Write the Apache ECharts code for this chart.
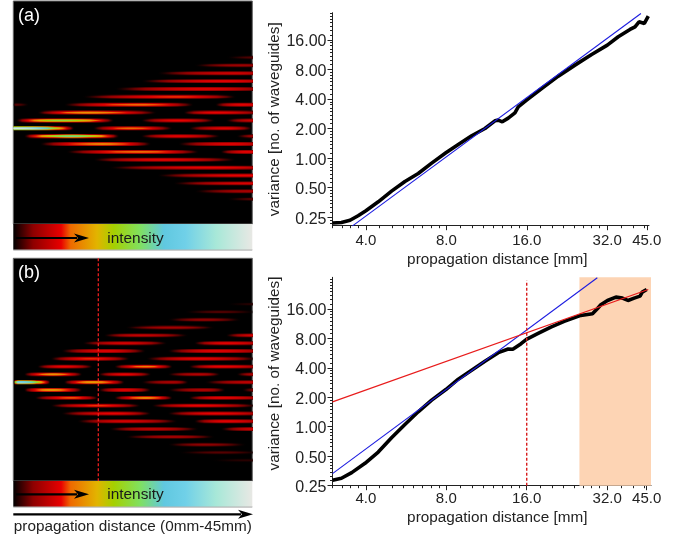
<!DOCTYPE html>
<html>
<head>
<meta charset="utf-8">
<style>html,body{margin:0;padding:0;background:#fff}#c{width:688px;height:540px}</style>
<script src="https://cdn.jsdelivr.net/npm/echarts@6/dist/echarts.min.js"></script>
</head>
<body>
<div id="c"></div>
<script>
// ---------- data ----------
var xTicks = [4, 8, 16, 32, 45];
var yTicks = [0.25, 0.5, 1, 2, 4, 8, 16];

// propagation distance [mm], variance — panel (a)
var zA = [3.0,3.24,3.49,3.74,4.0,4.45,4.99,5.6,6.28,7.05,7.97,8.87,9.95,11.16,12.16,12.52,12.96,13.64,14.45,14.87,15.98,18.19,21.0,24.24,27.99,32.04,35.2,38.95,40.67,42.1,44.08,45.6];
var varA = [0.218,0.221,0.233,0.259,0.291,0.359,0.461,0.579,0.698,0.89,1.133,1.378,1.689,2.005,2.4,2.438,2.345,2.556,2.896,3.334,3.899,5.126,6.845,8.86,11.38,14.16,17.22,20.45,21.77,24.49,23.54,27.96];
var fitA = [[3.556,0.2028],[42.8,29.77]];

// panel (b)
var zB = [3.0,3.24,3.54,3.97,4.45,4.99,5.6,6.28,7.05,7.97,8.87,9.95,11.16,12.52,13.64,14.19,15.24,15.96,16.13,17.58,19.7,22.1,25.5,28.2,29.4,30.3,32.1,34.5,36.5,38.3,40.4,42.5,43.3,45.0];
var varB = [0.284,0.298,0.34,0.423,0.552,0.773,1.056,1.421,1.869,2.4,3.057,3.776,4.663,5.712,6.226,6.177,7.053,7.81,8.185,8.92,10.43,11.91,13.71,14.25,16.03,17.6,19.49,21.07,20.58,19.49,20.58,21.57,23.69,25.2];
var fitB1 = [[3.0,0.332],[29.4,33.2]];
var fitB2 = [[3.0,1.797],[45.6,25.2]];
var markB = [[16,0.25],[16,31.1]];
var bandB = [25.2,46.7];

// intensity streaks: waveguide, start mm, peak mm, end mm, peak level
var streaksA = [
[0,0,0,11.5,1],[0,15,22,30,.27],[0,33,40,45,.2],
[-1,.5,9,19,.48],[-1,24,31,38,.2],[-1,40,46,52,.17],
[1,2,11,20,.58],[1,24,31,39,.2],[1,42,48,54,.15],
[-2,4.5,14,27,.3],[-2,32,38,48,.2],
[2,5,17,26,.3],[2,31,41,50,.2],
[-3,0,.5,3,.05],[-3,9.5,24,34,.27],[-3,38,43,50,.2],
[3,10,24,35,.27],[3,39,44,50,.2],
[-4,13,31,42,.22],[4,15,28,42,.2],
[-5,19,36,50,.2],[5,18,38,52,.2],
[-6,24,40,52,.2],[6,27,44,55,.2],
[-7,27,42,50,.17],[7,30,45,55,.18],
[-8,34,43,50,.1],[8,34,45,54,.12],
[-9,40,46,52,.05],[9,40,47,54,.06]
];
var streaksB = [
[0,0,1,7,.8],[0,9.5,15,21,.33],[0,24,30,33,.12],[0,36,45,50,.15],
[-1,2,7.5,13,.3],[-1,16,21,26,.2],[-1,29,35,39,.13],[-1,42,46,50,.13],
[1,2,7,13,.33],[1,16,21,26,.2],[1,29,36,40,.13],[1,43,48,52,.13],
[-2,4.5,9.5,15,.2],[-2,19,25,30,.27],[-2,33,39,49,.2],
[2,4,11,16,.24],[2,19,25,30,.3],[2,33,39,49,.2],
[-3,7,14.5,22,.22],[-3,25,35,46,.2],
[3,7,16,24,.22],[3,26,35,46,.2],
[-4,9,17.5,25,.2],[-4,29,38,50,.2],
[4,9,19,26,.2],[4,29,38,50,.2],
[-5,13,21,29,.18],[-5,34,40,50,.2],
[5,12,21,31,.18],[5,34,40,50,.2],
[-6,17,24,33,.15],[-6,40,46,52,.18],
[6,18,26,35,.15],[6,39,46,52,.18],
[-7,21,30,38,.11],[7,21,30,38,.11],
[-8,29,36,43,.09],[8,29,36,44,.09],
[-9,32,39,46,.05],[9,31,39,47,.05],
[-10,40,46,50,.03],[10,37,44,50,.03]
];
var markHeat = [[16,-15.87],[16,12.65]];

// colour scale: level, r, g, b
var ramp = [[0,0,0,0],[.083,142,0,0],[.2,232,0,0],[.24,238,106,0],[.35,226,180,0],[.42,165,208,0],[.53,128,224,96],[.63,96,200,224],[.72,112,208,232],[.85,168,232,216],[1,232,232,228]];

// ---------- helpers ----------
function colorAt(v, alpha) {
  v = Math.max(0, Math.min(1, v));
  for (var i = 1; i < ramp.length; i++) {
    if (v <= ramp[i][0]) {
      var a = ramp[i-1], b = ramp[i], t = (v - a[0]) / (b[0] - a[0]);
      var m = function (k) { return Math.round(a[k] + (b[k] - a[k]) * t); };
      return 'rgba(' + m(1) + ',' + m(2) + ',' + m(3) + ',' + (alpha ? Math.min(1, v / 0.04) : 1) + ')';
    }
  }
  return 'rgb(232,232,228)';
}
function streakFill(api, peakFrac, level) {
  var stops = [], n = 16;
  for (var i = 0; i <= n; i++) {
    var off = i / n;
    var t = off < peakFrac ? (peakFrac - off) / (peakFrac || 1) : (off - peakFrac) / ((1 - peakFrac) || 1);
    var v = level * Math.pow(1 - t * t, 1.2);
    stops.push({ offset: off, color: colorAt(v, true) });
  }
  return new echarts.graphic.LinearGradient(0, 0, 1, 0, stops);
}
var layers = [[.5, .4], [.3, .8], [.14, 1]];
function renderStreak(params, api) {
  var row = api.value(0), s = api.value(1), p = api.value(2), e = api.value(3), lv = api.value(4);
  var x0 = api.coord([s, row]), x1 = api.coord([e, row]), pk = api.coord([p, row]);
  var unit = Math.abs(api.size([0, 1])[1]);
  var w = x1[0] - x0[0], frac = (pk[0] - x0[0]) / w;
  var children = layers.map(function (l) {
    var h = unit * l[0];
    return {
      type: 'rect',
      shape: { x: x0[0], y: x0[1] - h / 2, width: w, height: h },
      style: { fill: streakFill(api, frac, lv * l[1]) }
    };
  });
  return { type: 'group', children: children };
}
function heatSeries(idx, data, name) {
  return {
    type: 'custom', name: name, xAxisIndex: idx, yAxisIndex: idx, clip: true, silent: true,
    renderItem: renderStreak, data: data, encode: { x: [1, 2, 3], y: 0 }, animation: false
  };
}

var minorX = [];
[[3,4,.25],[4,8,.5],[8,16,1],[16,32,2],[32,46,4]].forEach(function (r) {
  for (var v = r[0]; v < r[1] - 1e-6; v += r[2]) minorX.push(v);
});
var minorY = [];
[.125,.25,.5,1,2,4,8,16,32].forEach(function (o) {
  for (var k = 0; k < 8; k++) minorY.push(o + o * k / 8);
});

var INK = '#222';
var FONT = '"Liberation Sans", Arial, sans-serif';

function heatX(i) {
  return { type: 'value', gridIndex: i, min: 0, max: 45, show: false };
}
function heatY(i, mn, mx) {
  return { type: 'value', gridIndex: i, min: mn, max: mx, inverse: true, show: false };
}
function curveX(i, mx, nameShift, isMinor, margin, gap) {
  var o = {
    type: 'log', logBase: 2, gridIndex: i, min: 3, max: mx, position: 'bottom',
    axisLine: { show: !isMinor, onZero: false, lineStyle: { color: INK, width: 1 } },
    splitLine: { show: false }, minorTick: { show: false },
    axisTick: { show: true, inside: false, length: isMinor ? 2.5 : 4.5, lineStyle: { color: INK, width: 1 }, customValues: isMinor ? minorX : xTicks },
    axisLabel: isMinor ? { show: false } : {
      show: true, customValues: xTicks, margin: margin, color: INK, fontSize: 15, fontFamily: FONT,
      formatter: function (v) { return Number(v).toFixed(1); }
    }
  };
  if (!isMinor) {
    o.name = 'propagation distance [mm]';
    o.nameLocation = 'middle';
    o.nameGap = gap;
    o.nameTextStyle = { color: INK, fontSize: 15.3, fontFamily: FONT, padding: [0, 0, 0, nameShift] };
  }
  return o;
}
function curveY(i, mn, mx, namePad, isMinor) {
  var o = {
    type: 'log', logBase: 2, gridIndex: i, min: mn, max: mx, position: 'left',
    axisLine: { show: !isMinor, onZero: false, lineStyle: { color: INK, width: 1 } },
    splitLine: { show: false }, minorTick: { show: false },
    axisTick: { show: true, inside: false, length: isMinor ? 2.5 : 5, lineStyle: { color: INK, width: 1 }, customValues: isMinor ? minorY : yTicks },
    axisLabel: isMinor ? { show: false } : {
      show: true, customValues: yTicks, margin: 6, color: INK, fontSize: 16, fontFamily: FONT, verticalAlign: 'top', lineHeight: 4,
      formatter: function (v) { return Number(v).toFixed(2); }
    }
  };
  if (!isMinor) {
    o.name = 'variance [no. of waveguides]';
    o.nameLocation = 'middle';
    o.nameGap = 49;
    o.nameTextStyle = { color: INK, fontSize: 15.3, fontFamily: FONT, padding: namePad };
  }
  return o;
}
function zip(a, b) { return a.map(function (v, i) { return [v, b[i]]; }); }
function lineS(idx, data, color, width, extra) {
  var s = {
    type: 'line', xAxisIndex: idx, yAxisIndex: idx, data: data, showSymbol: false, symbol: 'none',
    smooth: false, clip: true, animation: false, silent: true,
    lineStyle: { color: color, width: width }
  };
  for (var k in extra || {}) s[k] = extra[k];
  return s;
}
function rectG(x, y, w, h, fill) {
  return { type: 'rect', silent: true, shape: { x: x, y: y, width: w, height: h }, style: { fill: fill } };
}
function text(x, y, t, size, color, align) {
  return { type: 'text', silent: true, x: x, y: y, z: 100,
    style: { text: t, fontSize: size, fontFamily: FONT, fill: color, align: align || 'left', verticalAlign: 'middle' } };
}
function arrow(x0, x1, y) {
  var n = x1 - 15;
  return [
    rectG(x0, y - 1.1, n - x0 + 3, 2.2, '#000'),
    { type: 'polygon', silent: true, z: 100, shape: { points: [[n, y - 4.5], [x1, y], [n, y + 4.5], [n + 4, y]] }, style: { fill: '#000' } }
  ];
}
var barStops = ramp.map(function (r) {
  return { offset: r[0], color: 'rgb(' + r[1] + ',' + r[2] + ',' + r[3] + ')' };
});
function colorBar(y) {
  return [
    rectG(13.3, y + 25.3, 239, 1.3, '#9a9a9a'),
    rectG(13.3, y, 239, 25.4, new echarts.graphic.LinearGradient(0, 0, 1, 0, barStops))
  ];
}

var chart = echarts.init(document.getElementById('c'), null, { renderer: 'canvas' });
chart.setOption({
  animation: false,
  backgroundColor: '#fff',
  grid: [
    { left: 13.3, top: 1, width: 239, height: 223, show: true, backgroundColor: '#000', borderColor: '#666', borderWidth: 1, containLabel: false },
    { left: 13.3, top: 258.3, width: 239, height: 222.7, show: true, backgroundColor: '#000', borderColor: '#666', borderWidth: 1, containLabel: false },
    { left: 332.5, top: 12.7, width: 316.5, height: 213, containLabel: false },
    { left: 332.5, top: 277.3, width: 318.5, height: 208.4, containLabel: false }
  ],
  xAxis: [
    heatX(0), heatX(1),
    curveX(2, 45.88, 13, false, 7.5, 26.5), curveX(2, 45.88, 0, true),
    curveX(3, 46.7, 11, false, 6, 24.5), curveX(3, 46.7, 0, true)
  ],
  yAxis: [
    heatY(0, -16.18, 12.16), heatY(1, -15.87, 12.65),
    curveY(2, 0.205, 30.3, [0, 0, 0, 0], false), curveY(2, 0.205, 30.3, 0, true),
    curveY(3, 0.25, 33.6, [0, 0, 0, 16], false), curveY(3, 0.25, 33.6, 0, true)
  ],
  graphic: { elements: [].concat(
    colorBar(224), colorBar(481),
    arrow(16, 89, 238), arrow(16, 89, 494.3), arrow(13.3, 253, 514.3),
    [
      text(18, 16, '(a)', 18, '#fff'),
      text(18, 273, '(b)', 18, '#fff'),
      text(135.5, 238.7, 'intensity', 15.4, '#1a1a1a', 'center'),
      text(135.5, 495, 'intensity', 15.4, '#1a1a1a', 'center'),
      text(132.8, 526.7, 'propagation distance (0mm-45mm)', 15.3, INK, 'center')
    ]
  ) },
  series: [
    heatSeries(0, streaksA, 'intensity a'),
    heatSeries(1, streaksB, 'intensity b'),
    lineS(1, markHeat, '#ff2020', 1.2, { lineStyle: { color: '#ff2020', width: 1.2, type: [3, 2] } }),
    lineS(2, zip(zA, varA), '#000', 3.6),
    lineS(2, fitA, '#1c1ce0', 1.1),
    lineS(4, zip(zB, varB), '#000', 3.6, {
      markArea: { silent: true, itemStyle: { color: '#fdd4b4' }, data: [[{ xAxis: bandB[0] }, { xAxis: bandB[1] }]] },
      z: 3
    }),
    lineS(4, fitB1, '#1c1ce0', 1.1, { z: 4 }),
    lineS(4, fitB2, '#e81c1c', 1.2, { z: 4 }),
    lineS(4, markB, '#d81e1e', 1.4, { z: 4, lineStyle: { color: '#d81e1e', width: 1.4, type: [3, 2] } })
  ]
});
</script>
</body>
</html>
